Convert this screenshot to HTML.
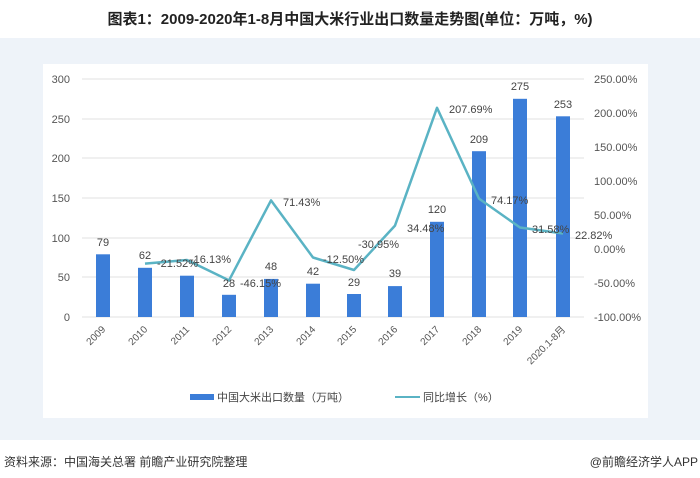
<!DOCTYPE html>
<html><head><meta charset="utf-8"><style>
body{margin:0;width:700px;height:473px;overflow:hidden;background:#fff;font-family:"Liberation Sans","Noto Sans CJK SC",sans-serif;}
</style></head><body>
<svg width="700" height="473" xmlns="http://www.w3.org/2000/svg" font-family="Liberation Sans, Noto Sans CJK SC, sans-serif">
<rect x="0" y="38" width="700" height="402" fill="#eef3f9"/>
<rect x="43" y="64" width="605" height="354" fill="#ffffff"/>
<text x="350" y="24" text-anchor="middle" font-size="15" font-weight="bold" fill="#222">图表1：2009-2020年1-8月中国大米行业出口数量走势图(单位：万吨，%)</text>
<g stroke="#e2e2e2" stroke-width="1">
<line x1="82" x2="584" y1="79" y2="79"/><line x1="82" x2="584" y1="119" y2="119"/>
<line x1="82" x2="584" y1="158" y2="158"/><line x1="82" x2="584" y1="198" y2="198"/>
<line x1="82" x2="584" y1="238" y2="238"/><line x1="82" x2="584" y1="277" y2="277"/>
<line x1="82" x2="584" y1="317" y2="317"/>
</g>
<g font-size="11" fill="#555" text-anchor="end">
<text x="70" y="83">300</text><text x="70" y="123">250</text><text x="70" y="162">200</text>
<text x="70" y="202">150</text><text x="70" y="242">100</text><text x="70" y="281">50</text><text x="70" y="321">0</text>
</g>
<g font-size="11" fill="#555" text-anchor="start">
<text x="594" y="83">250.00%</text><text x="594" y="117">200.00%</text><text x="594" y="151">150.00%</text>
<text x="594" y="185">100.00%</text><text x="594" y="219">50.00%</text><text x="594" y="253">0.00%</text>
<text x="594" y="287">-50.00%</text><text x="594" y="321">-100.00%</text>
</g>
<g fill="#3b7dd8">
<rect x="96" y="254.3" width="14" height="62.7"/>
<rect x="138" y="267.8" width="14" height="49.2"/>
<rect x="180" y="275.7" width="14" height="41.3"/>
<rect x="222" y="294.8" width="14" height="22.2"/>
<rect x="264" y="278.9" width="14" height="38.1"/>
<rect x="306" y="283.7" width="14" height="33.3"/>
<rect x="347" y="294" width="14" height="23"/>
<rect x="388" y="286.1" width="14" height="30.9"/>
<rect x="430" y="221.8" width="14" height="95.2"/>
<rect x="472" y="151.2" width="14" height="165.8"/>
<rect x="513" y="98.8" width="14" height="218.2"/>
<rect x="556" y="116.3" width="14" height="200.7"/>
</g>
<polyline fill="none" stroke="#5ab3c4" stroke-width="2.5" stroke-linejoin="round" points="145,263.6 187,260 229,280.4 271,200.4 313,257.5 354,270 395,225.6 437,107.8 479,198.6 520,227.5 563,233.5"/>
<g font-size="11" fill="#444" text-anchor="middle">
<text x="103" y="246">79</text><text x="145" y="259">62</text><text x="229" y="287">28</text>
<text x="271" y="270">48</text><text x="313" y="275">42</text><text x="354" y="286">29</text>
<text x="395" y="277">39</text><text x="437" y="213">120</text><text x="479" y="143">209</text>
<text x="520" y="90">275</text><text x="563" y="108">253</text>
</g>
<g font-size="11" fill="#444">
<text x="157" y="267">-21.52%</text><text x="190" y="263">-16.13%</text><text x="240" y="287">-46.15%</text>
<text x="283" y="206">71.43%</text><text x="323" y="263">-12.50%</text><text x="358" y="248">-30.95%</text>
<text x="407" y="232">34.48%</text><text x="449" y="113">207.69%</text><text x="491" y="204">74.17%</text>
<text x="532" y="233">31.58%</text><text x="575" y="239">22.82%</text>
</g>
<g font-size="10" fill="#555">
<text transform="translate(106,330) rotate(-45)" text-anchor="end">2009</text>
<text transform="translate(148,330) rotate(-45)" text-anchor="end">2010</text>
<text transform="translate(190,330) rotate(-45)" text-anchor="end">2011</text>
<text transform="translate(232,330) rotate(-45)" text-anchor="end">2012</text>
<text transform="translate(274,330) rotate(-45)" text-anchor="end">2013</text>
<text transform="translate(316,330) rotate(-45)" text-anchor="end">2014</text>
<text transform="translate(357,330) rotate(-45)" text-anchor="end">2015</text>
<text transform="translate(398,330) rotate(-45)" text-anchor="end">2016</text>
<text transform="translate(440,330) rotate(-45)" text-anchor="end">2017</text>
<text transform="translate(482,330) rotate(-45)" text-anchor="end">2018</text>
<text transform="translate(523,330) rotate(-45)" text-anchor="end">2019</text>
<text transform="translate(566,330) rotate(-45)" text-anchor="end">2020.1-8月</text>
</g>
<rect x="190" y="394" width="24" height="6" fill="#3b7dd8"/>
<text x="217" y="401" font-size="11" fill="#444">中国大米出口数量（万吨）</text>
<line x1="395" x2="420" y1="397" y2="397" stroke="#5ab3c4" stroke-width="2"/>
<text x="423" y="401" font-size="11" fill="#444">同比增长（%）</text>
<text x="4" y="466" font-size="12" fill="#333">资料来源：中国海关总署 前瞻产业研究院整理</text>
<text x="698" y="466" font-size="12" fill="#333" text-anchor="end">@前瞻经济学人APP</text>
</svg>
</body></html>
